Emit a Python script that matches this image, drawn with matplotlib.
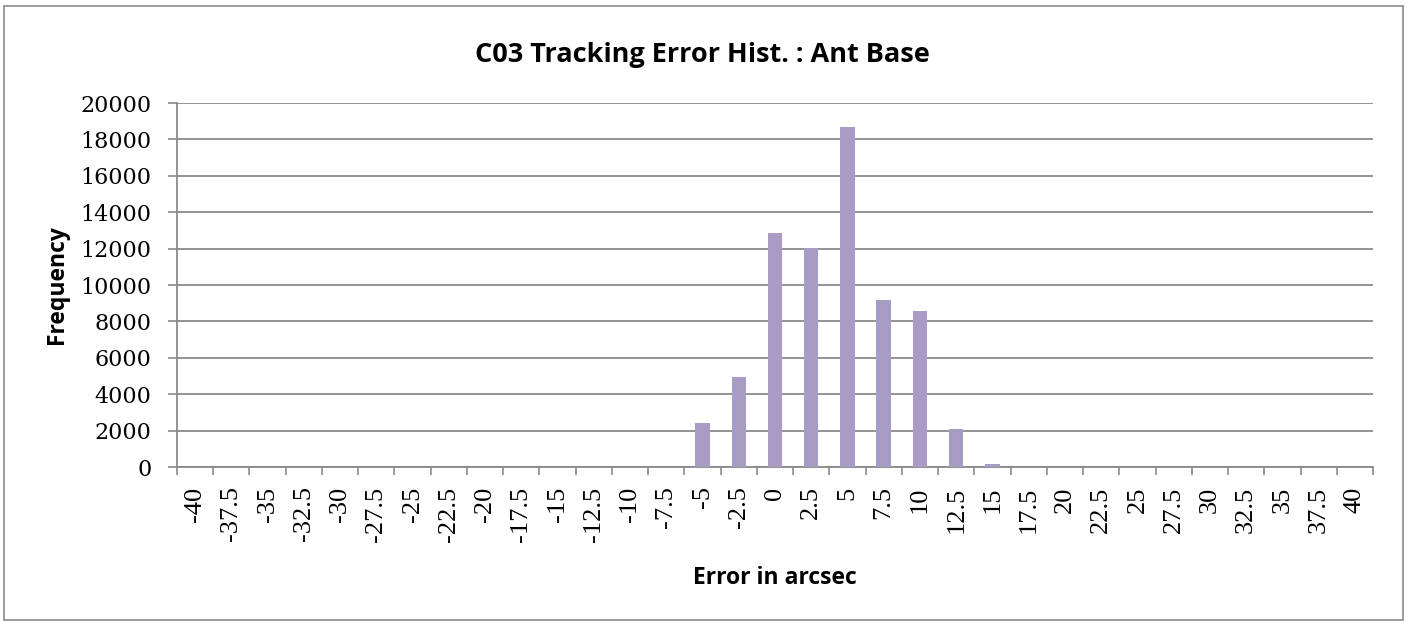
import matplotlib.pyplot as plt
from matplotlib.patches import Rectangle

# histogram bins (arcsec) and counts
bin_labels = ["-40", "-37.5", "-35", "-32.5", "-30", "-27.5", "-25", "-22.5",
              "-20", "-17.5", "-15", "-12.5", "-10", "-7.5", "-5", "-2.5",
              "0", "2.5", "5", "7.5", "10", "12.5", "15", "17.5", "20",
              "22.5", "25", "27.5", "30", "32.5", "35", "37.5", "40"]
counts = [0, 0, 0, 0, 0, 0, 0, 0,
          0, 0, 0, 0, 0, 0, 2400, 4950,
          12850, 12050, 18700, 9200, 8550, 2080, 190, 0, 0,
          0, 0, 0, 0, 0, 0, 0, 0]
y_ticks = [0, 2000, 4000, 6000, 8000, 10000, 12000, 14000, 16000, 18000, 20000]

bar_color = "#a89cc4"
line_gray = "#8a8a8a"

fig = plt.figure(figsize=(14.09, 6.25), dpi=100)
ax = fig.add_axes([177/1409, 1-467/625, (1373-177)/1409, (467-103)/625])

x = list(range(len(bin_labels)))
ax.bar(x, counts, width=0.4, color=bar_color, zorder=3)

ax.set_xlim(-0.5, len(bin_labels) - 0.5)
ax.set_ylim(0, 20000)

# y axis
ax.set_yticks(y_ticks)
ax.set_yticklabels([str(v) for v in y_ticks], family="DejaVu Serif", fontsize=16)
ax.tick_params(axis="y", length=6.5, width=1.2, color=line_gray, pad=12)
ax.yaxis.grid(True, color=line_gray, linewidth=1.3)
ax.set_axisbelow(True)

# x axis: tick marks between categories, labels at category centres
ax.set_xticks([i - 0.5 for i in range(len(bin_labels) + 1)])
ax.set_xticklabels([])
ax.set_xticks(x, minor=True)
ax.set_xticklabels(bin_labels, minor=True, rotation=90, va="top", ha="center",
                   family="Liberation Serif", fontsize=19)
ax.tick_params(axis="x", which="major", length=5.5, width=1.2, color=line_gray)
ax.tick_params(axis="x", which="minor", length=0, pad=14)

for side in ["top", "right"]:
    ax.spines[side].set_visible(False)
for side in ["left", "bottom"]:
    ax.spines[side].set_color(line_gray)
    ax.spines[side].set_linewidth(1.3)

fig.text(702/1409, 1-55/625, "C03 Tracking Error Hist. : Ant Base",
         ha="center", va="center", family="Open Sans", fontweight="bold", fontsize=19.5)
fig.text(57/1409, 1-285/625, "Frequency", rotation=90, ha="center", va="center",
         family="Open Sans", fontweight="bold", fontsize=16.5)
fig.text(775/1409, 1-578/625, "Error in arcsec", ha="center", va="center",
         family="Open Sans", fontweight="bold", fontsize=16.5)

# outer chart border
fig.patches.append(Rectangle((4/1409, 5/625), 1399/1409, 614/625,
                             transform=fig.transFigure, fill=False,
                             edgecolor=line_gray, linewidth=1.2))

fig.savefig("out.png", dpi=100)
